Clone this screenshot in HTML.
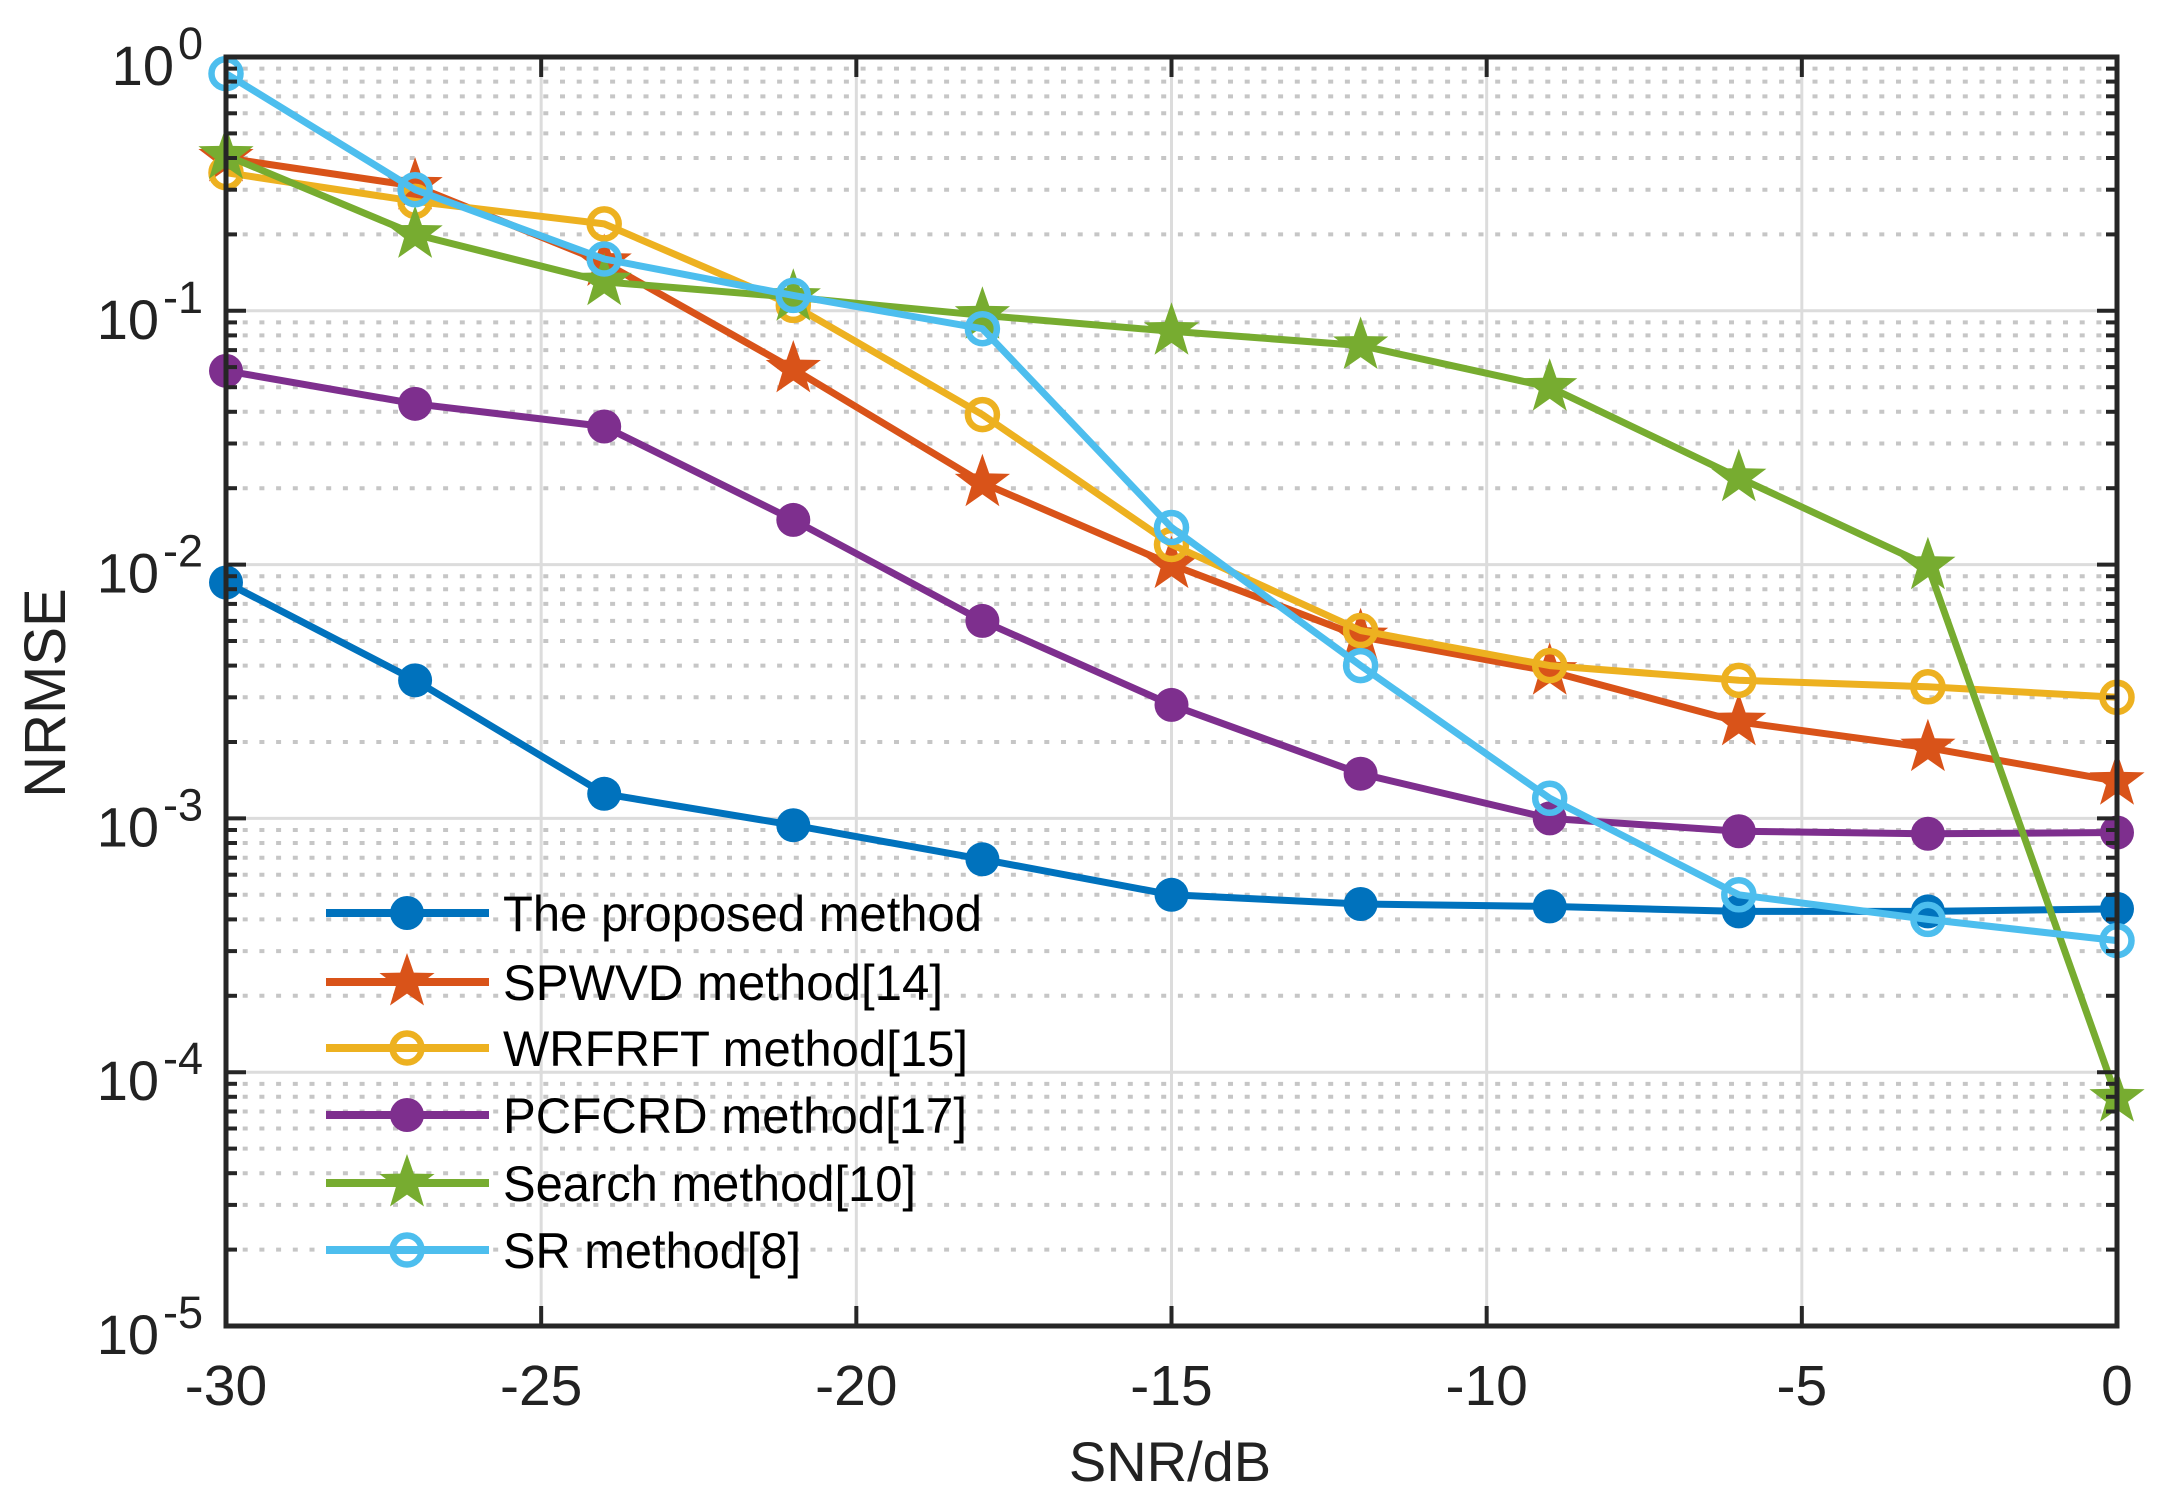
<!DOCTYPE html>
<html><head><meta charset="utf-8"><style>
html,body{margin:0;padding:0;background:#fff;}
svg{display:block;font-family:"Liberation Sans",Arial,sans-serif;}
</style></head><body>
<svg id="chart" width="2159" height="1507" viewBox="0 0 2159 1507">
<rect width="2159" height="1507" fill="#fff"/>
<g id="grid"></g>
<g id="series"></g>
<g id="axes"></g>
<g id="legend"></g>
<text x="1170" y="1481" font-size="56" fill="#222" text-anchor="middle">SNR/dB</text>
<text x="0" y="0" font-size="58" fill="#222" text-anchor="middle" transform="translate(65,693) rotate(-90)">NRMSE</text>
</svg>
<script>
const snr = [-30,-27,-24,-21,-18,-15,-12,-9,-6,-3,0];
const proposed = [8.5e-3,3.5e-3,1.25e-3,9.4e-4,6.9e-4,5e-4,4.6e-4,4.5e-4,4.3e-4,4.3e-4,4.4e-4];
const spwvd = [0.40,0.31,0.155,0.059,0.021,0.010,5.2e-3,3.8e-3,2.4e-3,1.9e-3,1.4e-3];
const wrfrft = [0.35,0.27,0.22,0.105,0.039,0.012,5.5e-3,4.0e-3,3.5e-3,3.3e-3,3.0e-3];
const pcfcrd = [0.058,0.043,0.035,0.015,6.0e-3,2.8e-3,1.5e-3,1.0e-3,8.9e-4,8.7e-4,8.8e-4];
const search = [0.41,0.20,0.13,0.113,0.096,0.083,0.073,0.050,0.022,0.0099,7.9e-5];
const sr = [0.86,0.30,0.16,0.115,0.085,0.014,4.0e-3,1.2e-3,5.0e-4,4.0e-4,3.3e-4];
const xTicks = [-30,-25,-20,-15,-10,-5,0];
const yDecades = [0,-1,-2,-3,-4,-5];
const seriesNames = ["The proposed method","SPWVD method[14]","WRFRFT method[15]","PCFCRD method[17]","Search method[10]","SR method[8]"];

const L=226,R=2117,T=57,B=1326;
const NS="http://www.w3.org/2000/svg";
function X(v){return L+(v+30)/30*(R-L);}
function Y(v){return T+(0-Math.log10(v))/5*(B-T);}
function mk(tag,attrs,parent){const e=document.createElementNS(NS,tag);for(const k in attrs)e.setAttribute(k,attrs[k]);parent.appendChild(e);return e;}
const grid=document.getElementById('grid'),axes=document.getElementById('axes'),ser=document.getElementById('series'),leg=document.getElementById('legend');

for(const d of yDecades){
  const y=Y(Math.pow(10,d));
  if(d>-5&&d<0){const g=mk('line',{x1:L,x2:R,y1:y,y2:y,stroke:'#dcdcdc','stroke-width':3},grid);
  
  }
  if(d>-5){for(let m=2;m<=9;m++){const yy=Y(m*Math.pow(10,d-1));
    const g=mk('line',{x1:L,x2:R,y1:yy,y2:yy,stroke:'#c6c6c6','stroke-width':4,'stroke-dasharray':'5 11.7'},grid);
    
    
    mk('line',{x1:L,x2:L+11,y1:yy,y2:yy,stroke:'#262626','stroke-width':4},axes);
    mk('line',{x1:R-11,x2:R,y1:yy,y2:yy,stroke:'#262626','stroke-width':4},axes);}}
}
for(const t of xTicks){const x=X(t);
  if(t>-30&&t<0){const g=mk('line',{x1:x,x2:x,y1:T,y2:B,stroke:'#dcdcdc','stroke-width':3},grid);
  
  }
  mk('line',{x1:x,x2:x,y1:B,y2:B-20,stroke:'#262626','stroke-width':4},axes);
  mk('line',{x1:x,x2:x,y1:T,y2:T+20,stroke:'#262626','stroke-width':4},axes);
  const tx=mk('text',{x:x,y:1405,'font-size':57,fill:'#222','text-anchor':'middle'},axes);
  tx.textContent=String(t);
  
  
}
for(const d of yDecades){const y=Y(Math.pow(10,d));
  mk('line',{x1:L,x2:L+20,y1:y,y2:y,stroke:'#262626','stroke-width':4},axes);
  mk('line',{x1:R-20,x2:R,y1:y,y2:y,stroke:'#262626','stroke-width':4},axes);
  const tx=mk('text',{x:203,y:y+28,'font-size':56,fill:'#222','text-anchor':'end'},axes);
  
  
  tx.appendChild(document.createTextNode('10'));
  const sp=mk('tspan',{dy:-26,'font-size':45,dx:4},tx);
  sp.textContent=String(d);
}
const frame=mk('rect',{x:L,y:T,width:R-L,height:B-T,fill:'none',stroke:'#262626','stroke-width':5},axes);



function star(cx,cy,r){let p=[];for(let i=0;i<10;i++){const a=-Math.PI/2+i*Math.PI/5;const rr=i%2?r*0.4:r;p.push((cx+rr*Math.cos(a)).toFixed(1)+','+(cy+rr*Math.sin(a)).toFixed(1));}return p.join(' ');}
function marker(type,color,cx,cy,g){
  if(type==='dot')return mk('circle',{cx:cx,cy:cy,r:17,fill:color},g);
  if(type==='ring')return mk('circle',{cx:cx,cy:cy,r:14.5,fill:'none',stroke:color,'stroke-width':6.5},g);
  return mk('polygon',{points:star(cx,cy,29),fill:color},g);
}
const defs=[
 {vals:proposed,color:'#0072BD',m:'dot',n:'proposed'},
 {vals:spwvd,color:'#D95319',m:'star',n:'spwvd'},
 {vals:wrfrft,color:'#EDB120',m:'ring',n:'wrfrft'},
 {vals:pcfcrd,color:'#7E2F8E',m:'dot',n:'pcfcrd'},
 {vals:search,color:'#77AC30',m:'star',n:'search'},
 {vals:sr,color:'#4DBEEE',m:'ring',n:'sr'}];
defs.forEach(function(s){
  const g=mk('g',{},ser);
  
  
  const pts=snr.map((x,i)=>X(x).toFixed(1)+','+Y(s.vals[i]).toFixed(1)).join(' ');
  const pl=mk('polyline',{points:pts,fill:'none',stroke:s.color,'stroke-width':7,'stroke-linejoin':'round'},g);
  
  
  snr.forEach(function(x,i){const m=marker(s.m,s.color,X(x),Y(s.vals[i]),g);
    
    });
});
const rowsY=[913,982,1048,1115,1183,1250];
const textW=[479,440,465,464,413,298];
defs.forEach(function(s,i){
  const g=mk('g',{},leg);
  
  
  const y=rowsY[i];
  mk('line',{x1:326,x2:489,y1:y,y2:y,stroke:s.color,'stroke-width':8},g);
  marker(s.m,s.color,407,y,g);
  const t=mk('text',{x:503,y:y+18,'font-size':50,fill:'#000',textLength:textW[i],lengthAdjust:'spacingAndGlyphs'},g);
  t.textContent=seriesNames[i];
  
  
});
</script>
</body></html>
